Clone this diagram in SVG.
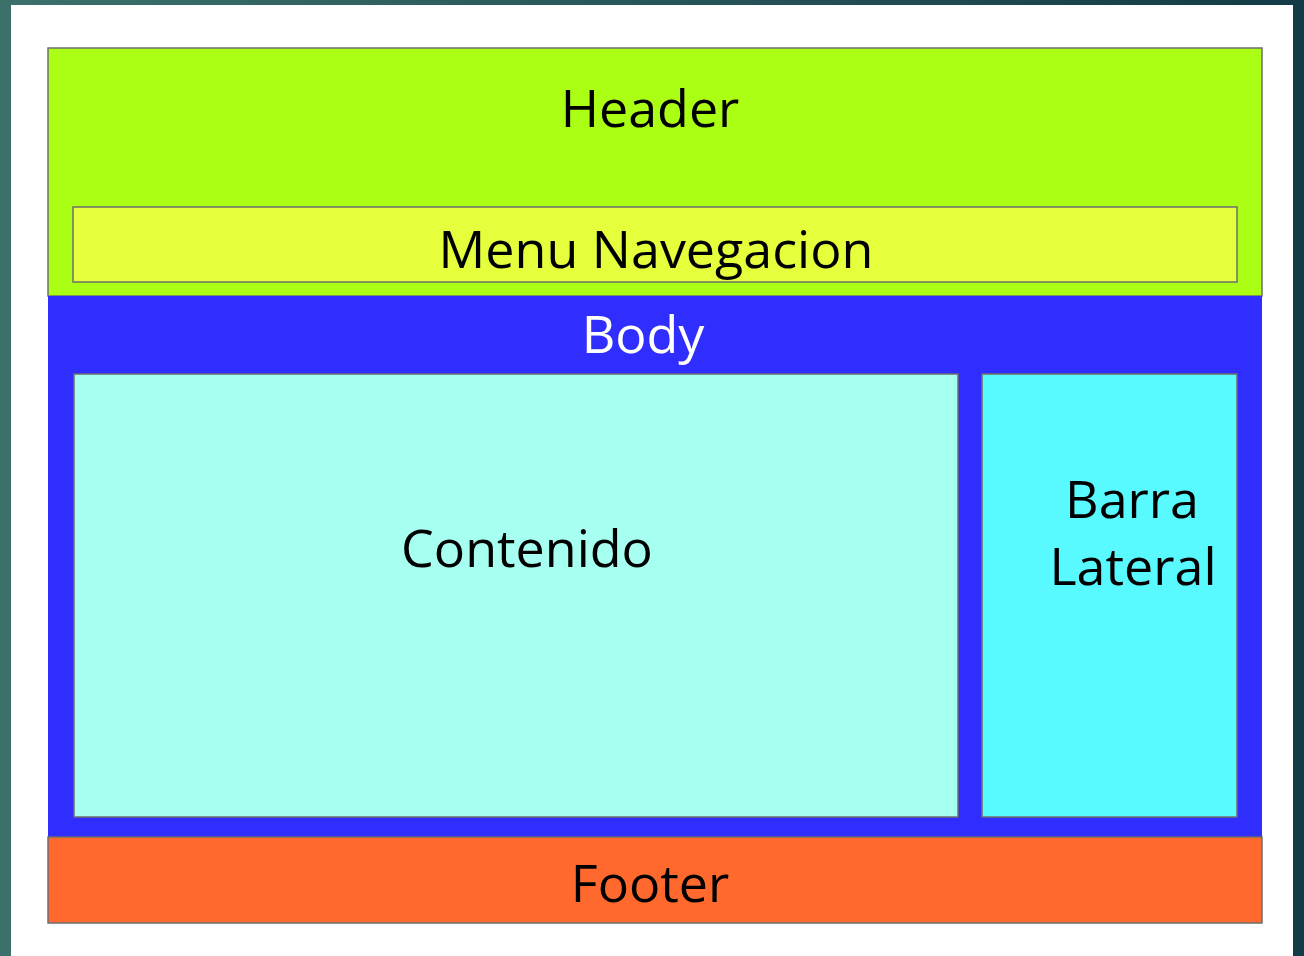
<svg xmlns="http://www.w3.org/2000/svg" width="1304" height="956" viewBox="0 0 1304 956">
<defs>
<linearGradient id="bg" x1="0" y1="0" x2="1" y2="0">
<stop offset="0" stop-color="#3b716a"/>
<stop offset="1" stop-color="#133b47"/>
</linearGradient>
<style>
.box{stroke:#6e6e6e;stroke-width:1.5}
.t{font-family:"Open Sans","DejaVu Sans",sans-serif;font-size:52px;text-anchor:middle;fill:#000}
</style>
</defs>
<rect x="0" y="0" width="1304" height="956" fill="url(#bg)"/>
<rect x="11" y="5" width="1282" height="951" fill="#ffffff"/>
<g id="header">
<rect class="box" x="48" y="48" width="1214" height="248" fill="#aaff14"/>
<text class="t" x="650" y="127">Header</text>
</g>
<g id="menu">
<rect class="box" x="73" y="207" width="1164" height="75" fill="#e6ff3c"/>
<text class="t" x="656" y="268">Menu Navegacion</text>
</g>
<g id="body">
<rect x="48" y="296" width="1214" height="541" fill="#2f2eff"/>
<text class="t" x="643" y="353" style="fill:#fff">Body</text>
</g>
<g id="contenido">
<rect class="box" x="74" y="374" width="884" height="443" fill="#a6fff1"/>
<text class="t" x="527" y="567">Contenido</text>
</g>
<g id="barra">
<rect class="box" x="982" y="374" width="255" height="443" fill="#58f9ff"/>
<text class="t" x="1132" y="518">Barra</text>
<text class="t" x="1133" y="585">Lateral</text>
</g>
<g id="footer">
<rect class="box" x="48" y="837" width="1214" height="86" fill="#ff692d"/>
<text class="t" x="650" y="902">Footer</text>
</g>
<g id="connectors"/>
</svg>
